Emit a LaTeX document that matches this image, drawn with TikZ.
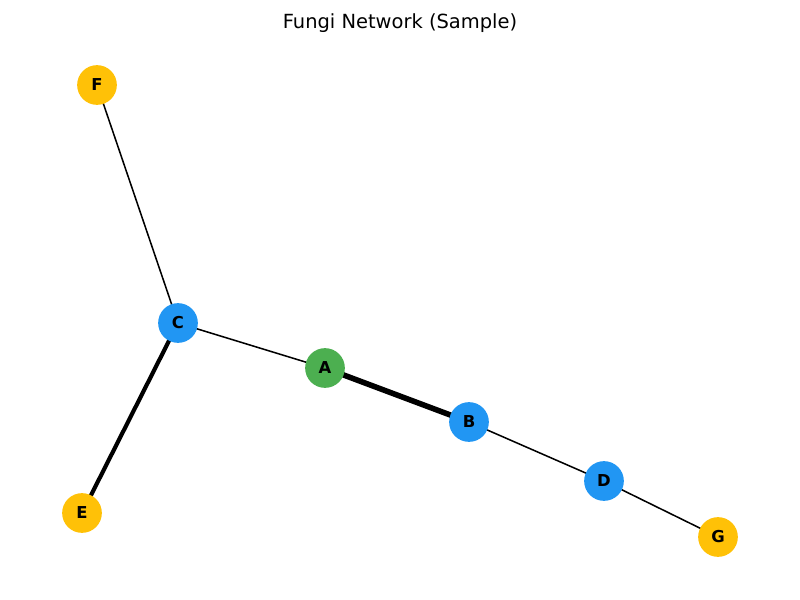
\documentclass[tikz,border=0pt]{standalone}
\usepackage{fontspec}
\setmainfont{DejaVu Sans}
\definecolor{fyellow}{HTML}{FFC107}
\definecolor{fblue}{HTML}{2196F3}
\definecolor{fgreen}{HTML}{4CAF50}
\begin{document}
\begin{tikzpicture}[x=0.75pt,y=-0.75pt,
  vtx/.style={circle,inner sep=0pt,minimum size=29.8pt,font=\fontsize{12.3}{12}\selectfont\bfseries},
  yel/.style={vtx,fill=fyellow},
  blu/.style={vtx,fill=fblue},
  grn/.style={vtx,fill=fgreen},
  edge/.style={line width=1.15pt,black},
  thk/.style={line width=3.1pt,black},
  thkk/.style={line width=4.2pt,black}]
\useasboundingbox (0,0) rectangle (800,600);
\node[font=\fontsize{14.6}{16}\selectfont] (title) at (400,23) {Fungi Network (Sample)};
\coordinate (pF) at (97,85);
\coordinate (pC) at (178,323);
\coordinate (pA) at (325,368);
\coordinate (pB) at (469,422);
\coordinate (pD) at (604,481);
\coordinate (pG) at (718,537);
\coordinate (pE) at (82,513);
\draw[edge] (pF) -- (pC);
\draw[edge] (pC) -- (pA);
\draw[thk] (pC) -- (pE);
\draw[thkk] (pA) -- (pB);
\draw[edge] (pB) -- (pD);
\draw[edge] (pD) -- (pG);
\node[yel] (F) at (pF) {F};
\node[blu] (C) at (pC) {C};
\node[grn] (A) at (pA) {A};
\node[blu] (B) at (pB) {B};
\node[blu] (D) at (pD) {D};
\node[yel] (G) at (pG) {G};
\node[yel] (E) at (pE) {E};
\end{tikzpicture}
\end{document}
